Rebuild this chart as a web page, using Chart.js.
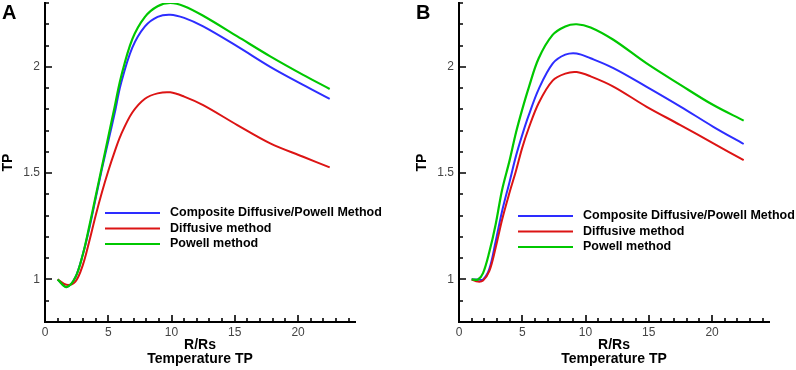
<!DOCTYPE html>
<html>
<head>
<meta charset="utf-8">
<script src="https://cdn.jsdelivr.net/npm/chart.js@4/dist/chart.umd.min.js"></script>
<style>
	body { margin: 0; background: #fff; }
	#wrap { position: relative; width: 796px; height: 370px; }
	.panel { position: absolute; top: 0; width: 398px; height: 370px; }
	.tag { position: absolute; top: 1px; font: bold 20px "Liberation Sans", Arial, sans-serif; color: #000; }
</style>
</head>
<body>
<div id="wrap">
	<div class="panel" style="left:0"><canvas id="chartA" width="398" height="370"></canvas></div>
	<div class="panel" style="left:398px"><canvas id="chartB" width="398" height="370"></canvas></div>
	<div class="tag" style="left:2px">A</div>
	<div class="tag" style="left:416px">B</div>
</div>
<script>
// panel A
const radiusA = [1, 1.7, 2.4, 3, 3.5, 4, 4.5, 5, 5.5, 6, 6.9, 7.9, 8.9, 9.9, 11, 12.5, 15.2, 17.8, 20.4, 22.5];
const compositeA = [1, 0.965, 1.01, 1.12, 1.24, 1.38, 1.52, 1.65, 1.78, 1.92, 2.09, 2.19, 2.235, 2.245, 2.23, 2.19, 2.096, 2.0, 1.915, 1.849];
const diffusiveA = [1, 0.975, 0.99, 1.07, 1.18, 1.3, 1.41, 1.51, 1.6, 1.68, 1.785, 1.85, 1.875, 1.88, 1.86, 1.82, 1.726, 1.64, 1.577, 1.527];
const powellA = [1, 0.964, 1.01, 1.12, 1.25, 1.39, 1.53, 1.67, 1.81, 1.95, 2.13, 2.235, 2.285, 2.3, 2.285, 2.24, 2.143, 2.049, 1.962, 1.896];

// panel B
const radiusB = [1, 1.5, 1.9, 2.4, 2.9, 3.4, 4, 4.5, 5, 5.5, 6.3, 7.4, 8.4, 9.3, 10.4, 12.2, 14.8, 17.5, 20.1, 22.5];
const compositeB = [1, 1, 1, 1.05, 1.18, 1.32, 1.46, 1.58, 1.68, 1.77, 1.895, 2.015, 2.057, 2.063, 2.04, 1.994, 1.907, 1.813, 1.718, 1.637];
const diffusiveB = [1, 0.99, 0.995, 1.04, 1.15, 1.28, 1.41, 1.51, 1.62, 1.71, 1.83, 1.935, 1.968, 1.975, 1.955, 1.907, 1.813, 1.726, 1.64, 1.561];
const powellB = [1, 1, 1.03, 1.13, 1.26, 1.42, 1.56, 1.69, 1.8, 1.9, 2.04, 2.15, 2.19, 2.2, 2.185, 2.127, 2.017, 1.915, 1.82, 1.747];

const seriesNames = ["Composite Diffusive/Powell Method", "Diffusive method", "Powell method"];
const xTickValues = [0, 5, 10, 15, 20];
const yTickValues = [1, 1.5, 2];

const FONT = "'Liberation Sans', Arial, sans-serif";
const BLUE = "rgb(45, 45, 255)";
const RED = "rgb(220, 20, 20)";
const GREEN = "rgb(0, 200, 0)";

function pts(xs, ys) {
	return xs.map((x, i) => ({ x: x, y: ys[i] }));
}

// inward tick marks, minor every 1 on x and 0.1 on y
const tickMarks = {
	id: "tickMarks",
	afterDraw(chart) {
		const ctx = chart.ctx;
		const xs = chart.scales.x, ys = chart.scales.y;
		const area = chart.chartArea;
		ctx.save();
		ctx.strokeStyle = "#000";
		ctx.lineWidth = 1.6;
		ctx.beginPath();
		for (let i = 0; i <= 24; i++) {
			const px = Math.round(xs.getPixelForValue(i));
			const len = i % 5 === 0 ? 7 : 4;
			ctx.moveTo(px, area.bottom);
			ctx.lineTo(px, area.bottom - len);
		}
		for (let k = 9; k <= 23; k++) {
			const py = Math.round(ys.getPixelForValue(k / 10));
			const len = k % 5 === 0 ? 7 : 4;
			ctx.moveTo(area.left, py);
			ctx.lineTo(area.left + len, py);
		}
		ctx.stroke();
		ctx.restore();
	}
};

// legend drawn inside the plot
const innerLegend = {
	id: "innerLegend",
	afterDatasetsDraw(chart, args, opts) {
		const ctx = chart.ctx;
		const area = chart.chartArea;
		const x0 = area.left + opts.x;
		ctx.save();
		ctx.font = "bold 12.5px " + FONT;
		ctx.textBaseline = "middle";
		ctx.fillStyle = "#000";
		opts.items.forEach((name, i) => {
			const ds = chart.data.datasets.find(d => d.label === name);
			const y = area.top + opts.y + i * 15.5;
			ctx.strokeStyle = ds.borderColor;
			ctx.lineWidth = 2;
			ctx.beginPath();
			ctx.moveTo(x0, y);
			ctx.lineTo(x0 + 55, y);
			ctx.stroke();
			ctx.fillText(name, x0 + 65, y);
		});
		ctx.restore();
	}
};

function makeChart(id, xs, comp, diff, pow, pad, axisWidth, titlePad, legendPos) {
	return new Chart(document.getElementById(id), {
		type: "line",
		data: {
			datasets: [
				{ label: seriesNames[2], data: pts(xs, pow), borderColor: GREEN, borderWidth: 2.2 },
				{ label: seriesNames[1], data: pts(xs, diff), borderColor: RED, borderWidth: 2 },
				{ label: seriesNames[0], data: pts(xs, comp), borderColor: BLUE, borderWidth: 2 }
			]
		},
		options: {
			responsive: false,
			animation: false,
			events: [],
			datasets: {
				line: { pointRadius: 0, fill: false, tension: 0.35 }
			},
			layout: { padding: pad },
			scales: {
				x: {
					type: "linear",
					min: 0,
					max: 24.5,
					afterBuildTicks: s => { s.ticks = xTickValues.map(v => ({ value: v })); },
					afterFit: s => { s.height = 48; s.paddingLeft = 0; s.paddingRight = 0; },
					grid: { display: false, drawTicks: false },
					border: { display: true, color: "#000", width: 2 },
					ticks: { padding: 3, color: "#444", font: { family: FONT, size: 12 }, callback: v => String(v), maxRotation: 0 },
					title: {
						display: true,
						text: ["R/Rs", "Temperature TP"],
						color: "#000",
						font: { family: FONT, size: 14, weight: "bold", lineHeight: 1 },
						padding: { top: 0, bottom: 4 }
					}
				},
				y: {
					type: "linear",
					min: 0.8,
					max: 2.3,
					afterBuildTicks: s => { s.ticks = yTickValues.map(v => ({ value: v })); },
					afterFit: s => { s.width = axisWidth; s.paddingTop = 0; s.paddingBottom = 0; },
					grid: { display: false, drawTicks: false },
					border: { display: true, color: "#000", width: 2 },
					ticks: { padding: 5, color: "#444", font: { family: FONT, size: 12 }, callback: v => String(v) },
					title: {
						display: true,
						text: "TP",
						color: "#000",
						font: { family: FONT, size: 14, weight: "bold" },
						padding: { top: titlePad, bottom: 0 }
					}
				}
			},
			plugins: {
				legend: { display: false },
				tooltip: { enabled: false },
				innerLegend: { x: legendPos.x, y: legendPos.y, items: seriesNames }
			}
		},
		plugins: [tickMarks, innerLegend]
	});
}

makeChart("chartA", radiusA, compositeA, diffusiveA, powellA,
	{ left: 0, right: 43, top: 3, bottom: 0 }, 45, 0, { x: 60, y: 210 });
makeChart("chartB", radiusB, compositeB, diffusiveB, powellB,
	{ left: 0, right: 27, top: 3, bottom: 0 }, 61, 16, { x: 59, y: 213 });
</script>
</body>
</html>
